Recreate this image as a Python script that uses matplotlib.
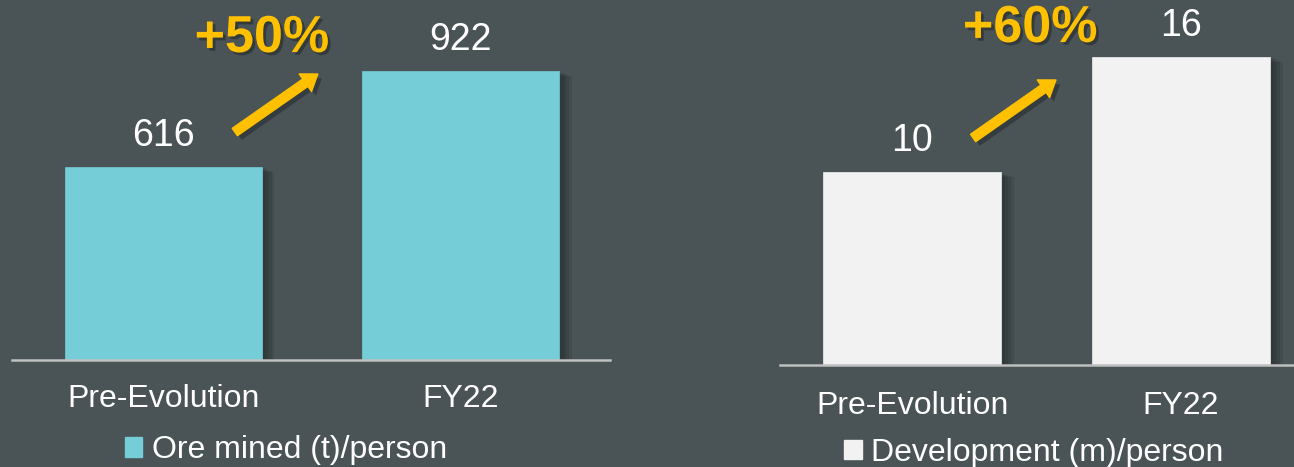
import matplotlib
matplotlib.use('Agg')
import matplotlib.pyplot as plt
import matplotlib.patheffects as pe
from matplotlib.patches import Patch, FancyArrowPatch

plt.rcParams['font.family'] = ['Liberation Sans', 'DejaVu Sans']

# данные
categories = ['Pre-Evolution', 'FY22']
ore_values = [616, 922]
dev_values = [10, 16]
ore_label = 'Ore mined (t)/person'
dev_label = 'Development (m)/person'
ore_growth = '+50%'
dev_growth = '+60%'

bg = '#4a5356'
cyan = '#74cdd7'
white_bar = '#f2f2f2'
orange = '#ffc000'
axis_grey = '#bfbfbf'
shade = '#1c2224'

fig = plt.figure(figsize=(12.94, 4.67), dpi=100)
fig.patch.set_facecolor(bg)

# мягкая тень: несколько полупрозрачных слоёв
shadow = [pe.SimplePatchShadow(offset=(o, -o * 0.4), shadow_rgbFace=shade, alpha=0.16)
          for o in (9, 7, 5, 3)] + [pe.Normal()]
txt_shadow = [pe.SimplePatchShadow(offset=(2, -2), shadow_rgbFace=shade, alpha=0.5), pe.Normal()]


def panel(rect, values, color, ylim, xlim, label_pad, growth, growth_xy, arrow_tail, arrow_tip,
          legend_label, legend_xy):
    ax = fig.add_axes(rect)
    ax.set_facecolor(bg)
    x = range(len(values))
    bars = ax.bar(x, values, width=0.662, color=color, edgecolor=color, linewidth=0.5, zorder=2)
    for b in bars:
        b.set_path_effects(shadow)
    for xi, v in zip(x, values):
        ax.annotate(str(v), xy=(xi, v), xytext=(0, 15), textcoords='offset points',
                    ha='center', va='baseline', fontsize=27, color='white')
    ax.set_ylim(*ylim)
    ax.set_xlim(*xlim)
    for s in ['top', 'right', 'left']:
        ax.spines[s].set_visible(False)
    ax.spines['bottom'].set_color(axis_grey)
    ax.spines['bottom'].set_linewidth(1.8)
    ax.spines['bottom'].set_zorder(3)
    ax.set_yticks([])
    ax.set_xticks(list(x))
    ax.set_xticklabels(categories, fontsize=23, color='white')
    ax.tick_params(axis='x', length=0, pad=label_pad)

    ax.text(growth_xy[0], growth_xy[1], growth, ha='center', va='baseline', fontsize=37.5,
            fontweight='bold', color=orange, path_effects=txt_shadow)
    arr = FancyArrowPatch(arrow_tail, arrow_tip,
                          arrowstyle='simple,head_length=1.1,head_width=1.55,tail_width=0.65',
                          mutation_scale=10, color=orange, shrinkA=0, shrinkB=0, zorder=4)
    arr.set_path_effects([pe.SimplePatchShadow(offset=(3, -3), shadow_rgbFace=shade, alpha=0.45),
                          pe.Normal()])
    ax.add_patch(arr)

    ax.legend(handles=[Patch(facecolor=color, edgecolor=color)], labels=[legend_label],
              loc='center', bbox_to_anchor=legend_xy, bbox_transform=fig.transFigure,
              frameon=False, fontsize=23, labelcolor='white', handlelength=0.55,
              handleheight=0.55, handletextpad=0.3, borderpad=0, borderaxespad=0)
    return ax


panel([12 / 1294, 107 / 467, 598 / 1294, 360 / 467], ore_values, cyan,
      (0, 1148), (-0.509, 1.501), 17.5, ore_growth, (0.331, 982),
      (0.240, 727), (0.519, 912), ore_label, (0.221, 0.036))

panel([780 / 1294, 102 / 467, 514 / 1294, 365 / 467], dev_values, white_bar,
      (0, 18.94), (-0.491, 1.42), 19, dev_growth, (0.439, 16.76),
      (0.227, 11.78), (0.535, 14.79), dev_label, (0.799, 0.030))

fig.savefig('out.png', dpi=100, facecolor=bg)
